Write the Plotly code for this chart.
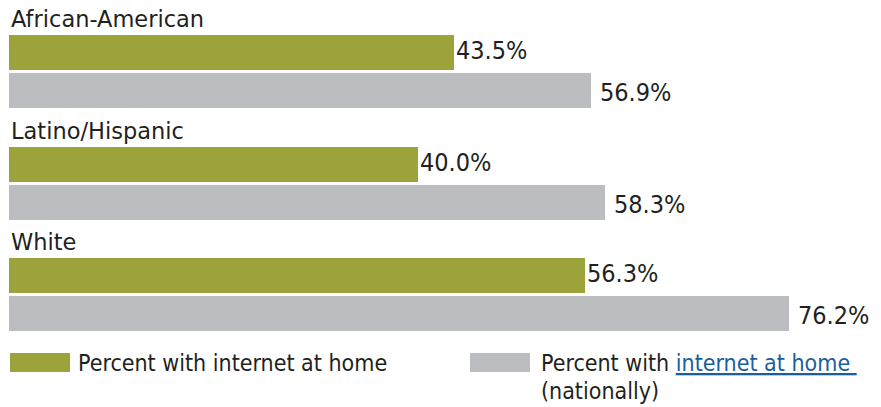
import plotly.graph_objects as go

# ---- data ----
categories = ["African-American", "Latino/Hispanic", "White"]
home_pct = [43.5, 40.0, 56.3]
national_pct = [56.9, 58.3, 76.2]
legend_home = "Percent with internet at home"
legend_nat_pre = "Percent with "
legend_nat_link = "internet at home"
legend_nat_post = "(nationally)"

# ---- style / layout constants ----
W, H = 881, 407
GREEN = "#9ca33b"
GREY = "#bcbdc1"
TEXT = "#231f20"
LINK = "#1b5e9e"
FONT = "DejaVu Sans"
FONT_C = "DejaVu Sans Condensed, DejaVu Sans"
PX_PER_PCT = 10.23
X0_PX = 9
BAR_H = 35
GAP = 3
FIRST_TOP = 35
GROUP_STEP = 111.5

x_range = [-X0_PX / PX_PER_PCT, (W - X0_PX) / PX_PER_PCT]

tops = [FIRST_TOP + i * GROUP_STEP for i in range(len(categories))]
y_home = [t + BAR_H / 2 for t in tops]
y_nat = [t + BAR_H + GAP + BAR_H / 2 for t in tops]

fig = go.Figure()
fig.add_trace(go.Bar(x=home_pct, y=y_home, orientation="h", width=BAR_H,
                     marker=dict(color=GREEN, line=dict(width=0)),
                     hoverinfo="skip", showlegend=False))
fig.add_trace(go.Bar(x=national_pct, y=y_nat, orientation="h", width=BAR_H,
                     marker=dict(color=GREY, line=dict(width=0)),
                     hoverinfo="skip", showlegend=False))

ann = []
for i, cat in enumerate(categories):
    ann.append(dict(x=0, y=tops[i] - 1, xref="x", yref="y", text=cat,
                    xanchor="left", yanchor="bottom", showarrow=False, xshift=0,
                    font=dict(family=FONT, size=22.5, color=TEXT)))
    ann.append(dict(x=home_pct[i], y=y_home[i], xref="x", yref="y",
                    text=f"{home_pct[i]:.1f}%", xanchor="left", yanchor="middle",
                    showarrow=False, xshift=0, yshift=2,
                    font=dict(family=FONT_C, size=25, color=TEXT)))
    ann.append(dict(x=national_pct[i], y=y_nat[i], xref="x", yref="y",
                    text=f"{national_pct[i]:.1f}%", xanchor="left", yanchor="middle",
                    showarrow=False, xshift=7, yshift=-2,
                    font=dict(family=FONT_C, size=25, color=TEXT)))

# legend (drawn manually)
shapes = [
    dict(type="rect", xref="paper", yref="y", x0=10 / W, x1=70 / W, y0=353, y1=372,
         fillcolor=GREEN, line=dict(width=0)),
    dict(type="rect", xref="paper", yref="y", x0=470 / W, x1=530 / W, y0=353, y1=372,
         fillcolor=GREY, line=dict(width=0)),
]
LEG_FONT = dict(family=FONT_C, size=23, color=TEXT)
ann.append(dict(x=76 / W, y=363, xref="paper", yref="y", text=legend_home,
                xanchor="left", yanchor="middle", showarrow=False, font=LEG_FONT))
ann.append(dict(x=539 / W, y=363, xref="paper", yref="y",
                text=(legend_nat_pre
                      + f'<a href="#" style="color:{LINK}"><u>{legend_nat_link} </u></a>'),
                xanchor="left", yanchor="middle", align="left", showarrow=False,
                font=LEG_FONT))
ann.append(dict(x=539 / W, y=391, xref="paper", yref="y", text=legend_nat_post,
                xanchor="left", yanchor="middle", align="left", showarrow=False,
                font=LEG_FONT))

fig.update_layout(
    width=W, height=H,
    margin=dict(l=0, r=0, t=0, b=0),
    paper_bgcolor="white", plot_bgcolor="white",
    xaxis=dict(range=x_range, visible=False, fixedrange=True),
    yaxis=dict(range=[H, 0], visible=False, fixedrange=True),
    bargap=0, barmode="overlay",
    annotations=ann, shapes=shapes,
    showlegend=False,
)

fig.write_html("out.html", config={"displayModeBar": False},
               post_script="document.body.style.margin='0';")
